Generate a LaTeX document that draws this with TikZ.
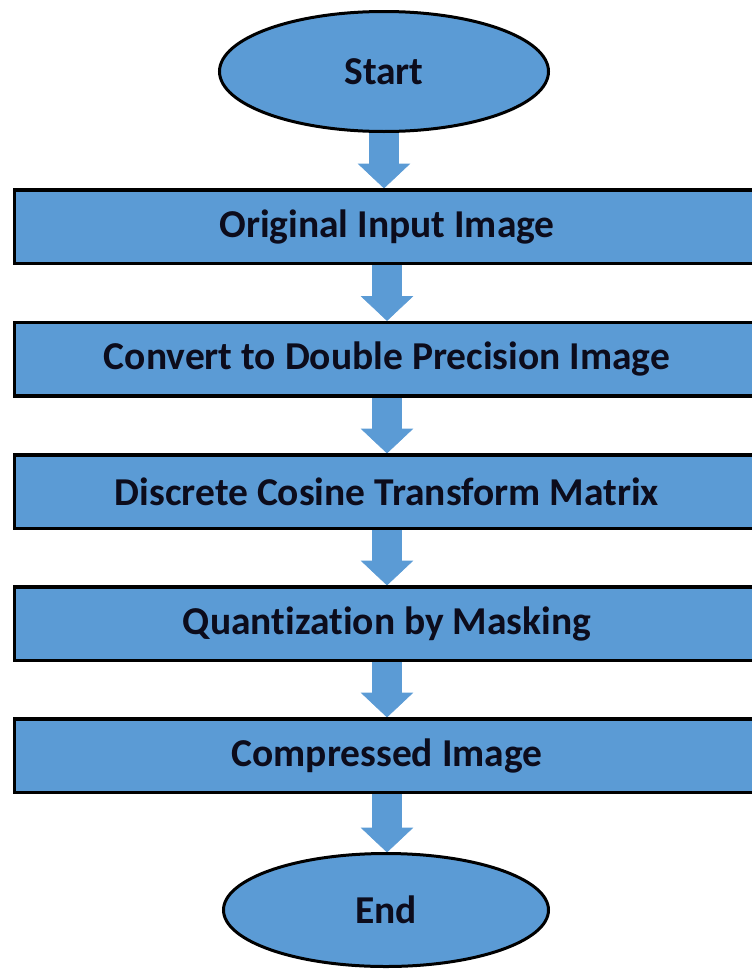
\documentclass[tikz,border=0pt]{standalone}
\usepackage{fontspec}
\setmainfont{Carlito}[Ligatures=NoCommon]
\usetikzlibrary{shapes.geometric,calc,backgrounds}
\definecolor{boxblue}{HTML}{5B9BD5}
\definecolor{txtdark}{HTML}{0C0C1C}
\tikzset{
  stepbox/.style={rectangle, draw=black, line width=3.5pt, fill=boxblue,
    minimum width=745pt, minimum height=73.5pt, inner sep=0pt,
    text=txtdark, font=\fontsize{39.5}{47}\selectfont\bfseries},
  termbox/.style={ellipse, draw=black, line width=3pt, fill=boxblue,
    inner sep=0pt, text=txtdark, font=\fontsize{39.5}{47}\selectfont\bfseries},
  blockarrow/.style={fill=boxblue, draw=boxblue, line width=0.6pt}
}
\newcommand{\blockarr}[2]{%
  \begin{pgfonlayer}{background}
  \path[blockarrow] let \p1=(#1.south), \p2=(#2.north) in
    (\x1-14.5pt,\y1+3pt) -- (\x1-14.5pt,\y2+24pt) -- (\x1-25.5pt,\y2+24pt) --
    (\x1,\y2) -- (\x1+25.5pt,\y2+24pt) -- (\x1+14.5pt,\y2+24pt) --
    (\x1+14.5pt,\y1+3pt) -- cycle;
  \end{pgfonlayer}}
\begin{document}
\begin{tikzpicture}[x=1pt,y=-1pt]
\useasboundingbox (0,0) rectangle (752,969);
\clip (0,0) rectangle (752,969);
\node[termbox, minimum width=329pt, minimum height=120pt] (start) at (384,71.5) {Start};
\node[stepbox] (b1) at (387,226.5) {Original Input Image};
\node[stepbox] (b2) at (387,359) {Convert to Double Precision Image};
\node[stepbox] (b3) at (387,491.5) {Discrete Cosine Transform Matrix};
\node[stepbox] (b4) at (387,623.5) {Quantization by Masking};
\node[stepbox] (b5) at (387,755.5) {Compressed Image};
\node[termbox, minimum width=325pt, minimum height=113pt] (end) at (386,910) {End};
\blockarr{start}{b1}
\blockarr{b1}{b2}
\blockarr{b2}{b3}
\blockarr{b3}{b4}
\blockarr{b4}{b5}
\blockarr{b5}{end}
\end{tikzpicture}
\end{document}
